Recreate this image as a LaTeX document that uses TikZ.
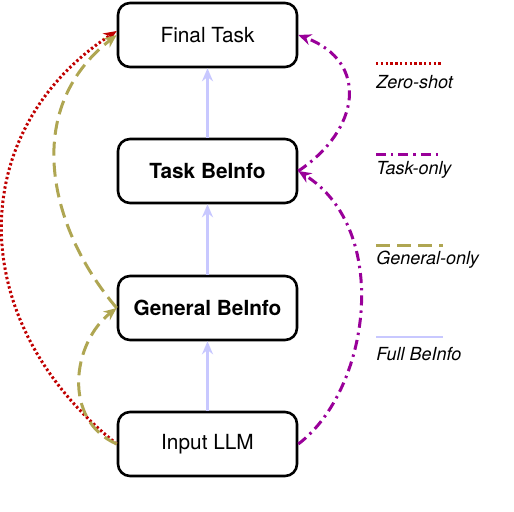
\documentclass[tikz,border=0pt]{standalone}
\usepackage{fontspec}
\setsansfont{TeX Gyre Heros}
\usetikzlibrary{arrows.meta}

\definecolor{zerored}{HTML}{C00000}
\definecolor{taskpurple}{HTML}{990099}
\definecolor{generalolive}{HTML}{AFA652}
\definecolor{fullblue}{HTML}{C8C8FF}

\begin{document}
\begin{tikzpicture}[x=0.5pt, y=-0.5pt,
        stage/.style={draw, line width=1.3pt, rounded corners=6pt, minimum width=89.5pt,
            minimum height=32pt, inner sep=0pt, font=\sffamily\fontsize{10.4}{12}\selectfont},
        tip/.style={-{Stealth[open, length=6.5pt, width=5.5pt]}},
        zeroshot/.style={zerored, line width=1.5pt, dash pattern=on 1.2pt off 1.2pt},
        taskonly/.style={taskpurple, line width=1.5pt, dash pattern=on 5pt off 2.5pt on 1.2pt off 2.5pt},
        generalonly/.style={generalolive, line width=1.5pt, dash pattern=on 7pt off 3.5pt},
        fullinfo/.style={fullblue, line width=1.4pt},
        legendtext/.style={anchor=west, inner sep=0pt, font=\sffamily\itshape\fontsize{9}{11}\selectfont}]
        \useasboundingbox (0,0) rectangle (514,512);

        \node[stage] (final) at (207.5,35) {Final Task};
        \node[stage] (task) at (207.5,171) {\bfseries Task BeInfo};
        \node[stage] (general) at (207.5,308) {\bfseries General BeInfo};
        \node[stage] (input) at (207.5,444) {Input LLM};

        % Full BeInfo chain.
        \draw[fullinfo, tip] (input) -- (general);
        \draw[fullinfo, tip] (general) -- (task);
        \draw[fullinfo, tip] (task) -- (final);
        % Zero-shot.
        \draw[zeroshot, tip] (input.west) .. controls (-38,320) and (-34,130) .. ([yshift=2pt]final.west);
        % General-only.
        \draw[generalonly, tip] (input.west) .. controls (62,420) and (72,343) .. (general.west);
        \draw[generalonly, tip] (general.west) .. controls (50,230) and (20,110) .. (final.west);
        % Task-only.
        \draw[taskonly, tip] (input.east) .. controls (370,390) and (392,230) .. (task.east);
        \draw[taskonly, tip] (task.east) .. controls (360,130) and (370,62) .. (final.east);

        % Legend.
        \coordinate (zs) at (376,64);
        \coordinate (to) at (376,155);
        \coordinate (go) at (376,246);
        \coordinate (fb) at (376,337);
        \draw[zeroshot] (zs) -- ++(67,0);
        \node[legendtext] (zslabel) at (376,82) {Zero-shot};
        \draw[taskonly] (to) -- ++(63,0);
        \node[legendtext] (tolabel) at (376,170) {Task-only};
        \draw[generalonly] (go) -- ++(67,0);
        \node[legendtext] (golabel) at (376,260) {General-only};
        \draw[fullinfo] (fb) -- ++(67,0);
        \node[legendtext] (fblabel) at (376,354) {Full BeInfo};
    \end{tikzpicture}
\end{document}
